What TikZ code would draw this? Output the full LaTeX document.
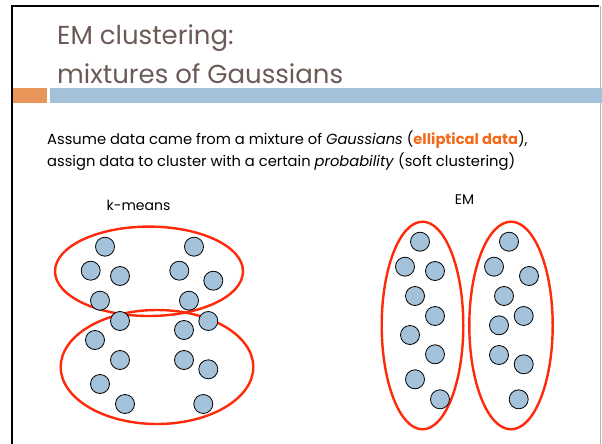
\documentclass[tikz,border=0pt]{standalone}
\usepackage{fontspec}
\setmainfont{Poppins}
\definecolor{titlebrown}{HTML}{6B5A56}
\definecolor{accentorange}{HTML}{E8965A}
\definecolor{barblue}{HTML}{A3C1DA}
\definecolor{hiorange}{HTML}{F26A1B}
\definecolor{dotblue}{HTML}{A4C2DA}
\definecolor{ringred}{HTML}{FF2A0A}
\tikzset{
  datapt/.style={circle, draw=black, line width=0.8pt, fill=dotblue, minimum size=19pt, inner sep=0pt},
  cluster/.style={draw=ringred, line width=2.4pt},
  titletext/.style={anchor=base west, inner sep=0pt, text=titlebrown, font=\fontsize{26}{31}\selectfont},
  bodytext/.style={anchor=base west, inner sep=0pt, font=\fontsize{14.7}{18}\selectfont},
  labeltext/.style={inner sep=0pt, font=\fontsize{14}{17}\selectfont}
}
\begin{document}
\begin{tikzpicture}[x=1pt, y=-1pt]
\useasboundingbox (0,0) rectangle (602,444);
% slide frame
\draw[line width=2.6pt, black] (11,6) -- (599,6);
\draw[line width=2.6pt, black] (12,4.7) -- (12,444);
\draw[line width=0.8pt, black!30] (600.5,6) -- (600.5,444);
% title rule
\fill[accentorange] (13.3,88) rectangle (47,103);
\fill[barblue] (50,88) rectangle (602,103);
% title
\node[titletext] (t1) at (57,45) {EM clustering:};
\node[titletext] (t2) at (57,83) {mixtures of Gaussians};
% body text
\node[bodytext] (b1) at (47,144.5) {Assume data came from a mixture of \emph{Gaussians} (\textcolor{hiorange}{\bfseries elliptical data}),};
\node[bodytext] (b2) at (47,166) {assign data to cluster with a certain \emph{probability} (soft clustering)};
% captions
\node[labeltext] (lk) at (138.5,205) {k-means};
\node[labeltext] (le) at (464.5,200) {EM};
% k-means clusters
\draw[cluster] (149,271.3) ellipse [x radius=94, y radius=44.7];
\draw[cluster] (157,367) ellipse [x radius=96.3, y radius=57];
% k-means points
\foreach \n/\px/\py in {k1/105/246.7, k2/90.7/270.7, k3/120/276, k4/100/300.7, k5/120/321,
  k6/95/340, k7/120/360, k8/100/384, k9/125/404,
  k10/194/246.7, k11/179.3/270.7, k12/213.3/280.7, k13/189/300.7, k14/208.3/321,
  k15/184/330, k16/184/360, k17/208.3/369.3, k18/203.3/404}
  \node[datapt] (\n) at (\px,\py) {};
% EM clusters
\draw[cluster] (422.5,325.5) ellipse [x radius=40.8, y radius=103.8];
\draw[cluster] (511,325.5) ellipse [x radius=41.7, y radius=103.8];
% EM points
\foreach \n/\px/\py in {e1/420/241.7, e2/405/266.7, e3/435/271, e4/415/296, e5/435/316,
  e6/410/335, e7/435/354.3, e8/415/379.3, e9/440/399.3,
  e10/509/241.7, e11/494/266.7, e12/529/276, e13/504/296, e14/523.7/316,
  e15/499/325.3, e16/499/355, e17/523.7/364.3, e18/518.7/399.3}
  \node[datapt] (\n) at (\px,\py) {};
\end{tikzpicture}
\end{document}
